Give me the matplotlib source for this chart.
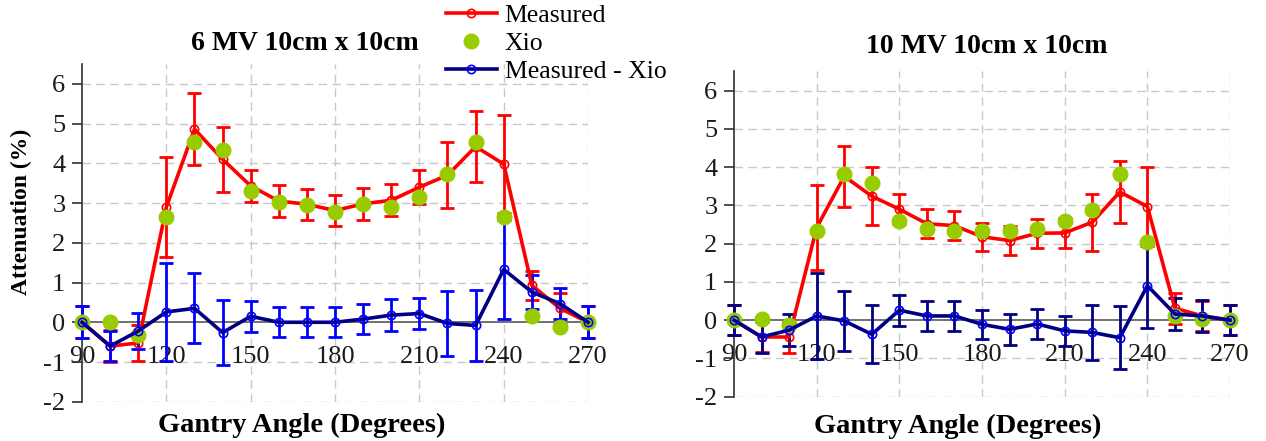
import matplotlib
matplotlib.use("Agg")
import matplotlib.pyplot as plt

plt.rcParams["font.family"] = ["Liberation Serif", "DejaVu Serif"]
plt.rcParams["axes.unicode_minus"] = False

# Gantry angles (degrees)
angles = [90, 100, 110, 120, 130, 140, 150, 160, 170, 180,
          190, 200, 210, 220, 230, 240, 250, 260, 270]

# 6 MV
meas6 = [0, -0.60, -0.52, 2.90, 4.86, 4.10, 3.43, 3.05, 2.97, 2.81,
         2.98, 3.07, 3.40, 3.70, 4.42, 3.98, 0.93, 0.35, 0]
meas6_err = [0.4, 0.4, 0.45, 1.25, 0.9, 0.82, 0.4, 0.4, 0.39, 0.38,
             0.41, 0.4, 0.42, 0.83, 0.89, 1.23, 0.36, 0.39, 0.4]
xio6 = [0, 0, -0.33, 2.65, 4.54, 4.33, 3.30, 3.03, 2.96, 2.78,
        2.97, 2.90, 3.16, 3.72, 4.54, 2.65, 0.15, -0.13, 0]
diff6 = [0, -0.60, -0.22, 0.26, 0.35, -0.26, 0.15, 0, 0, 0,
         0.08, 0.18, 0.22, -0.03, -0.08, 1.33, 0.76, 0.47, 0]
diff6_err = [0.4, 0.38, 0.46, 1.23, 0.88, 0.81, 0.39, 0.38, 0.38, 0.38,
             0.38, 0.41, 0.38, 0.82, 0.9, 1.24, 0.42, 0.4, 0.4]

# 10 MV
meas10 = [0, -0.44, -0.44, 2.42, 3.76, 3.24, 2.90, 2.52, 2.47, 2.18,
          2.08, 2.27, 2.28, 2.56, 3.35, 2.97, 0.31, 0.11, 0]
meas10_err = [0.4, 0.4, 0.41, 1.12, 0.8, 0.75, 0.39, 0.38, 0.38, 0.37,
              0.39, 0.38, 0.4, 0.75, 0.82, 1.03, 0.4, 0.4, 0.4]
xio10 = [0, 0.03, -0.13, 2.34, 3.81, 3.59, 2.59, 2.37, 2.33, 2.33,
         2.33, 2.37, 2.59, 2.89, 3.81, 2.04, 0.11, 0.03, 0]
diff10 = [0, -0.44, -0.26, 0.11, -0.02, -0.37, 0.26, 0.11, 0.11, -0.11,
          -0.24, -0.10, -0.28, -0.32, -0.46, 0.90, 0.16, 0.11, 0]
diff10_err = [0.4, 0.43, 0.42, 1.12, 0.79, 0.76, 0.4, 0.4, 0.4, 0.37,
              0.4, 0.39, 0.39, 0.72, 0.82, 1.1, 0.42, 0.41, 0.4]

xticks = [90, 120, 150, 180, 210, 240, 270]
yticks = [-2, -1, 0, 1, 2, 3, 4, 5, 6]

RED = "#ff0000"
GREEN = "#99cc00"
NAVY = "#000080"
BLUE = "#0000ff"

fig = plt.figure(figsize=(12.66, 4.41), dpi=100)
ax1 = fig.add_axes([0.0648, 0.089, 0.3997, 0.766])
ax2 = fig.add_axes([0.5798, 0.1005, 0.3918, 0.7375])


def draw_panel(ax, meas, meas_err, xio, diff, diff_err, diff_err_color):
    ax.errorbar(angles, meas, yerr=meas_err, fmt="none", ecolor=RED,
                elinewidth=2.0, capsize=4.8, capthick=2.0, zorder=2, clip_on=False)
    ax.errorbar(angles, diff, yerr=diff_err, fmt="none", ecolor=diff_err_color,
                elinewidth=2.0, capsize=4.8, capthick=2.0, zorder=3, clip_on=False)
    ax.plot(angles, meas, color=RED, lw=2.6, marker="o", ms=6, mfc="none",
            mec=RED, mew=1.2, zorder=4, clip_on=False, label="Measured")
    ax.plot(angles, xio, ls="none", marker="o", ms=10.5, color=GREEN,
            zorder=5, clip_on=False, label="Xio")
    ax.plot(angles, diff, color=NAVY, lw=2.6, marker="o", ms=6, mfc="none",
            mec=BLUE, mew=1.2, zorder=6, clip_on=False, label="Measured - Xio")

    ax.set_xlim(90, 270)
    ax.set_ylim(-2, 6.5)
    ax.set_xticks(xticks)
    ax.set_xticklabels([str(t) for t in xticks])
    ax.set_yticks(yticks)
    ax.set_yticklabels([str(t) for t in yticks])

    for t in yticks:
        if t != 0:
            ax.axhline(t, color="#c8c8c8", lw=1.0, ls=(0, (6, 4)), zorder=0)
    for t in xticks[1:]:
        ax.axvline(t, color="#c8c8c8", lw=1.0, ls=(0, (6, 4)), zorder=0)

    for s in ["top", "right"]:
        ax.spines[s].set_visible(False)
    ax.spines["bottom"].set_position(("data", 0))
    ax.spines["bottom"].set_color("#707070")
    ax.spines["bottom"].set_linewidth(1.4)
    ax.spines["left"].set_color("#303030")
    ax.spines["left"].set_linewidth(1.2)

    ax.tick_params(axis="x", length=0, pad=17, labelsize=19, labelcolor="#1a1a1a")
    ax.tick_params(axis="y", length=7, width=1.2, color="#303030", pad=5,
                   labelsize=19, labelcolor="#1a1a1a")


draw_panel(ax1, meas6, meas6_err, xio6, diff6, diff6_err, BLUE)
draw_panel(ax2, meas10, meas10_err, xio10, diff10, diff10_err, NAVY)

ax1.text(0.441, 1.062, "6 MV 10cm x 10cm", transform=ax1.transAxes,
         ha="center", va="center", fontsize=20, fontweight="bold")
ax2.text(0.509, 1.076, "10 MV 10cm x 10cm", transform=ax2.transAxes,
         ha="center", va="center", fontsize=20, fontweight="bold")

fig.text(0.2383, 0.0363, "Gantry Angle (Degrees)", ha="center", va="center",
         fontsize=20.5, fontweight="bold")
fig.text(0.7563, 0.0324, "Gantry Angle (Degrees)", ha="center", va="center",
         fontsize=20.5, fontweight="bold")
fig.text(0.0171, 0.519, "Attenuation (%)", rotation=90, ha="center",
         va="center", fontsize=17, fontweight="bold")

handles, labels = ax1.get_legend_handles_labels()
fig.legend(handles, labels, loc="upper left", bbox_to_anchor=(0.35, 0.997),
           frameon=False, fontsize=18.5, handlelength=2.0, handletextpad=0.3,
           labelspacing=0.2, borderpad=0.1, borderaxespad=0)

fig.savefig("out.png", dpi=100)
